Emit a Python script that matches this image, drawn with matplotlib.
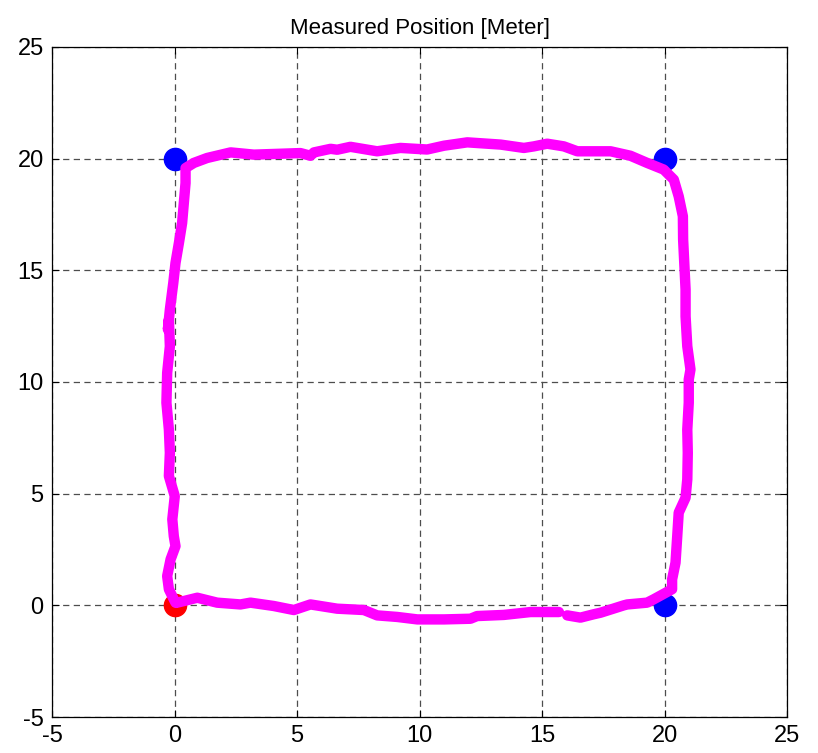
import matplotlib
matplotlib.use("Agg")
import matplotlib.pyplot as plt
import numpy as np

plt.rcParams["font.family"] = ["Liberation Sans Narrow", "Liberation Sans", "DejaVu Sans"]
plt.rcParams["axes.unicode_minus"] = False

# measured trajectory (meters)
# starts at the origin, runs along the bottom, up the right side,
# back along the top and down the left side
path_x = [0.11, 0.93, 1.74, 2.69, 3.10, 4.05, 4.87, 5.55, 6.64, 7.73, 8.27, 9.09,
          9.91, 11.00, 12.08, 12.35, 13.44, 14.53, 15.69, np.nan,
          16.03, 16.57, 17.11, 17.39, 18.34, 18.48, 19.29, 19.56, 20.31, 20.31,
          20.45, 20.52, 20.58, 20.86, 20.93, 20.95, 20.93, 20.99, 20.99, 21.06,
          20.93, 20.86, 20.86, 20.82, 20.76, 20.75, 20.58, 20.38, 19.97, 19.29,
          18.61, 17.80, 17.25, 16.84, 16.44, 15.89, 15.21, 14.67, 14.26, 13.31,
          11.95, 11.00, 10.31, 9.22, 8.27, 7.18, 6.64, 6.37, 5.69, 5.55, 5.14,
          4.33, 3.24, 2.29, 1.33, 0.79, 0.45, 0.45, 0.38, 0.31, 0.18, 0.04, -0.05,
          -0.19, -0.27, -0.23, -0.19, -0.30, -0.33, -0.23, -0.19, -0.23, 0.01,
          -0.09, -0.03, 0.04, -0.16, -0.30, -0.23, -0.03, 0.04]
path_y = [0.12, 0.34, 0.12, 0.04, 0.12, -0.03, -0.21, 0.04, -0.15, -0.21, -0.45, -0.52,
          -0.63, -0.63, -0.60, -0.48, -0.43, -0.30, -0.30, np.nan,
          -0.45, -0.55, -0.40, -0.33, 0.00, 0.04, 0.12, 0.27, 0.72, 1.16,
          1.91, 3.10, 4.15, 4.82, 5.64, 6.83, 7.87, 9.07, 10.11, 10.56,
          11.60, 12.94, 14.14, 15.03, 16.38, 17.42, 18.31, 19.06, 19.51, 19.81,
          20.13, 20.33, 20.33, 20.33, 20.33, 20.55, 20.67, 20.55, 20.48, 20.63,
          20.73, 20.58, 20.41, 20.48, 20.33, 20.53, 20.40, 20.44, 20.28, 20.13, 20.25,
          20.22, 20.18, 20.28, 20.03, 19.81, 19.58, 18.91, 18.02, 17.12, 16.23, 15.33, 14.44,
          13.24, 12.35, 12.80, 11.60, 10.41, 9.07, 7.87, 6.83, 5.79, 4.89,
          3.85, 3.10, 2.65, 2.06, 1.31, 0.72, 0.27, 0.12]

# reference corners
corner_x = [0, 20, 20]
corner_y = [20, 20, 0]
start_x = [0]
start_y = [0]

ticks = [-5, 0, 5, 10, 15, 20, 25]

fig = plt.figure(figsize=(8.18, 7.53), dpi=100)
ax = fig.add_axes([0.0636, 0.0478, 0.8985, 0.8898])

ax.plot(corner_x, corner_y, "o", color="#0000ff", markersize=16, zorder=3)
ax.plot(start_x, start_y, "o", color="#ff0000", markersize=16, zorder=3)
ax.plot(path_x, path_y, color="#ff00ff", linewidth=7.5,
        solid_capstyle="round", solid_joinstyle="round", zorder=4)

ax.set_xlim(-5, 25)
ax.set_ylim(-5, 25)
ax.set_xticks(ticks)
ax.set_yticks(ticks)
ax.grid(True, color="0.3", linestyle=(0, (5, 3.5)), linewidth=0.9)
ax.set_axisbelow(True)
ax.tick_params(direction="in", length=5, top=True, right=True,
               labelsize=17, pad=6)
for s in ax.spines.values():
    s.set_linewidth(0.9)
ax.set_title("Measured Position [Meter]", fontsize=16, pad=9)

fig.savefig("out.png", dpi=100)
